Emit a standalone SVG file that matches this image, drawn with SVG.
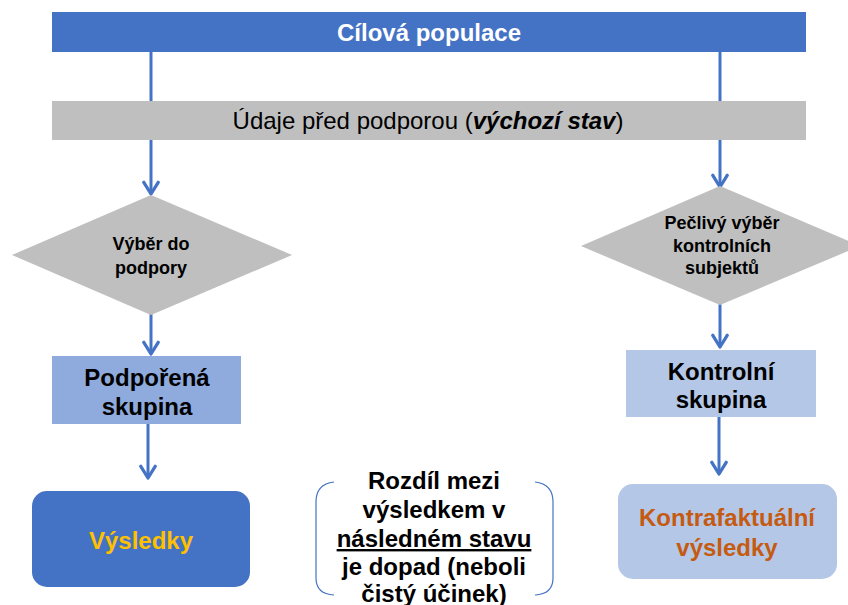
<svg xmlns="http://www.w3.org/2000/svg" width="848" height="605" viewBox="0 0 848 605">
<defs>
<marker id="arr" viewBox="0 0 10 10" refX="8" refY="5" markerWidth="6" markerHeight="6" orient="auto" markerUnits="strokeWidth">
<path d="M1.5,1 L8,5 L1.5,9" fill="none" stroke="#4472c4" stroke-width="1.8" stroke-linecap="round" stroke-linejoin="round"/>
</marker>
<style>
text{font-family:"Liberation Sans",Arial,sans-serif;text-anchor:middle}
.b{font-weight:bold}
.conn{stroke:#4472c4;stroke-width:3;fill:none}
.dia{fill:#bfbfbf}
.br{stroke:#4472c4;stroke-width:1.2;fill:none}
</style>
</defs>
<rect width="848" height="605" fill="#fff"/>
<g id="connectors">
<line class="conn" x1="151" y1="52" x2="151" y2="194" marker-end="url(#arr)"/>
<line class="conn" x1="720" y1="52" x2="720" y2="187" marker-end="url(#arr)"/>
<line class="conn" x1="151" y1="312" x2="151" y2="354" marker-end="url(#arr)"/>
<line class="conn" x1="720" y1="303" x2="720" y2="347" marker-end="url(#arr)"/>
<line class="conn" x1="148" y1="424" x2="148" y2="478" marker-end="url(#arr)"/>
<line class="conn" x1="719" y1="417" x2="719" y2="474" marker-end="url(#arr)"/>
</g>
<g id="cilova">
<rect x="52" y="12" width="754" height="40" fill="#4472c4"/>
<text x="429" y="41" class="b" font-size="24" fill="#fff">Cílová populace</text>
</g>
<g id="udaje">
<rect x="52" y="101" width="754" height="39" fill="#bfbfbf"/>
<text x="428" y="129" font-size="24" fill="#000">Údaje před podporou (<tspan font-weight="bold" font-style="italic">výchozí stav</tspan>)</text>
</g>
<g id="vyber">
<polygon class="dia" points="151,195 292,255 151,315 12,255"/>
<text x="151" y="250" class="b" font-size="18">Výběr do</text>
<text x="151" y="274" class="b" font-size="18">podpory</text>
</g>
<g id="peclivy">
<polygon class="dia" points="720,186 860,246 720,305 581,246"/>
<text x="722" y="229" class="b" font-size="18">Pečlivý výběr</text>
<text x="722" y="252" class="b" font-size="18">kontrolních</text>
<text x="722" y="274" class="b" font-size="18">subjektů</text>
</g>
<g id="podporena">
<rect x="52" y="356" width="189" height="68" fill="#8faadc"/>
<text x="147" y="386" class="b" font-size="24">Podpořená</text>
<text x="147" y="415" class="b" font-size="24">skupina</text>
</g>
<g id="kontrolni">
<rect x="626" y="350" width="190" height="67" fill="#b4c7e7"/>
<text x="721" y="380" class="b" font-size="24">Kontrolní</text>
<text x="721" y="408" class="b" font-size="24">skupina</text>
</g>
<g id="vysledky">
<rect x="32" y="491" width="218" height="96" rx="15" fill="#4472c4"/>
<text x="141" y="549" class="b" font-size="24" fill="#ffc000">Výsledky</text>
</g>
<g id="kontrafaktualni">
<rect x="618" y="484" width="219" height="95" rx="15" fill="#b4c7e7"/>
<text x="727" y="526" class="b" font-size="24" fill="#c55a11">Kontrafaktuální</text>
<text x="727" y="556" class="b" font-size="24" fill="#c55a11">výsledky</text>
</g>
<g id="rozdil">
<path class="br" d="M334,482 Q316,484 316,502 L316,578 Q316,594 334,595"/>
<path class="br" d="M535,482 Q553,484 553,502 L553,578 Q553,594 535,595"/>
<text x="434" y="489" class="b" font-size="24">Rozdíl mezi</text>
<text x="434" y="518" class="b" font-size="24">výsledkem v</text>
<text x="434" y="547" class="b" font-size="24" text-decoration="underline">následném stavu</text>
<text x="434" y="575" class="b" font-size="24">je dopad (neboli</text>
<text x="434" y="602" class="b" font-size="24">čistý účinek)</text>
</g>
</svg>
